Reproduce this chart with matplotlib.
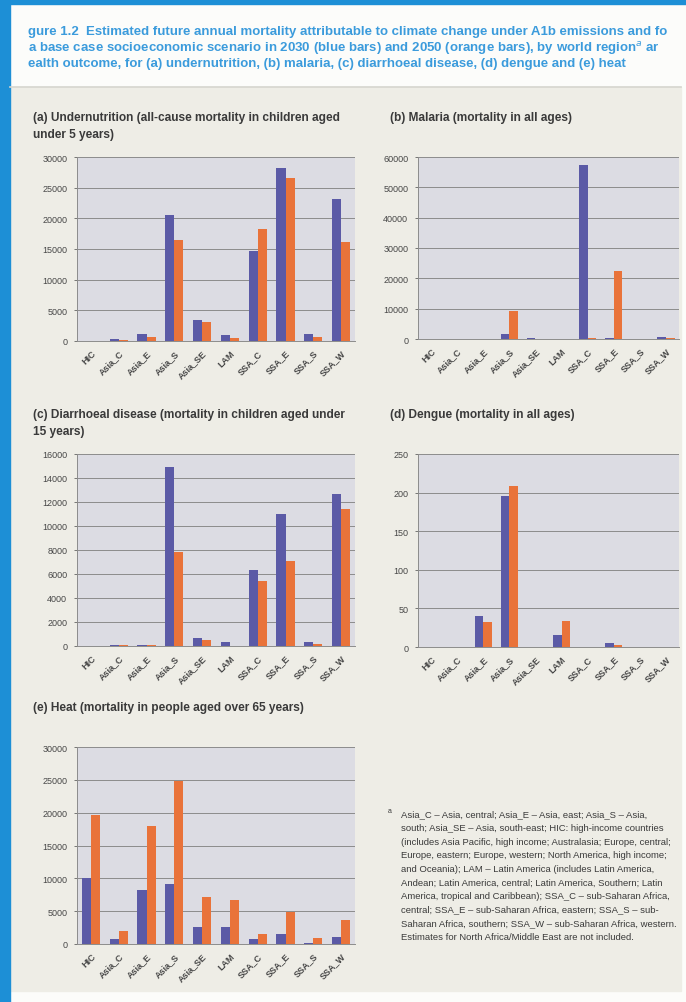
import numpy as np
import matplotlib
matplotlib.use("Agg")
import matplotlib.pyplot as plt
from matplotlib.patches import Rectangle

plt.rcParams["font.family"] = ["Liberation Sans", "DejaVu Sans"]

# data
regions = ["HIC", "Asia_C", "Asia_E", "Asia_S", "Asia_SE", "LAM", "SSA_C", "SSA_E", "SSA_S", "SSA_W"]

undernut_2030 = [0, 400, 1100, 20600, 3500, 1000, 14600, 28200, 1100, 23100]
undernut_2050 = [0, 200, 700, 16500, 3100, 550, 18200, 26500, 700, 16200]

malaria_2030 = [0, 0, 0, 1500, 200, 100, 57400, 300, 0, 800]
malaria_2050 = [0, 0, 0, 9300, 100, 100, 300, 22300, 0, 200]

diarr_2030 = [0, 100, 100, 14900, 650, 300, 6300, 11000, 300, 12700]
diarr_2050 = [0, 50, 50, 7800, 500, 0, 5450, 7050, 200, 11400]

dengue_2030 = [0, 0, 40, 196, 0, 16, 0, 5, 0, 0]
dengue_2050 = [0, 0, 32, 209, 0, 34, 0, 3, 0, 0]

heat_2030 = [10100, 770, 8200, 9200, 2550, 2550, 770, 1500, 100, 1100]
heat_2050 = [19600, 2000, 17900, 24800, 7100, 6700, 1500, 4850, 900, 3650]

# the scan is cropped at both sides, so the title lines show only these parts
title_lines = [
    "gure 1.2  Estimated future annual mortality attributable to climate change under A1b emissions and fo",
    "a base case socioeconomic scenario in 2030 (blue bars) and 2050 (orange bars), by world region$^{a}$ ar",
    "ealth outcome, for (a) undernutrition, (b) malaria, (c) diarrhoeal disease, (d) dengue and (e) heat",
]

footnote_lines = [
    "Asia_C \u2013 Asia, central; Asia_E \u2013 Asia, east; Asia_S \u2013 Asia,",
    "south; Asia_SE \u2013 Asia, south-east; HIC: high-income countries",
    "(includes Asia Pacific, high income; Australasia; Europe, central;",
    "Europe, eastern; Europe, western; North America, high income;",
    "and Oceania); LAM \u2013 Latin America (includes Latin America,",
    "Andean; Latin America, central; Latin America, Southern; Latin",
    "America, tropical and Caribbean); SSA_C \u2013 sub-Saharan Africa,",
    "central; SSA_E \u2013 sub-Saharan Africa, eastern; SSA_S \u2013 sub-",
    "Saharan Africa, southern; SSA_W \u2013 sub-Saharan Africa, western.",
    "Estimates for North Africa/Middle East are not included.",
]

W, H = 686, 1003
frame_blue = "#1d8fd6"
title_blue = "#3b9bdc"
cream = "#eeede6"
plot_bg = "#dcdce3"
bar_blue = "#5b5aa6"
bar_orange = "#e9733a"
text_col = "#3a3a3a"

fig = plt.figure(figsize=(W / 100, H / 100), dpi=100, facecolor="#fcfcfa")


def rect(x0, y0, x1, y1):
    return [x0 / W, 1 - y1 / H, (x1 - x0) / W, (y1 - y0) / H]


# background: page, blue frame, cream panel
bg = fig.add_axes([0, 0, 1, 1])
bg.set_xlim(0, W)
bg.set_ylim(H, 0)
bg.axis("off")
bg.add_patch(Rectangle((10, 88), 671, 904, color=cream, zorder=0))
bg.add_patch(Rectangle((0, 0), 10, H, color=frame_blue, zorder=1))
bg.add_patch(Rectangle((0, 0), W, 5, color=frame_blue, zorder=1))
bg.plot([10, 681], [88, 88], color="#d6d6cf", lw=1.2)

# title
for ys, line in zip([32, 48, 64], title_lines):
    bg.text(28, ys, line, color=title_blue, fontsize=9.5, fontweight="bold",
            va="center", ha="left")

# footnote
bg.text(388, 812, "a", color=text_col, fontsize=5, va="center")
for i, line in enumerate(footnote_lines):
    bg.text(401, 815 + i * 13.6, line, color=text_col, fontsize=6.8, va="center")


def bar_panel(box, v30, v50, ymax, step, title):
    ax = fig.add_axes(rect(*box))
    x = np.arange(len(regions))
    w = 0.33
    ax.set_facecolor(plot_bg)
    ax.bar(x - w / 2, v30, w, color=bar_blue, zorder=3)
    ax.bar(x + w / 2, v50, w, color=bar_orange, zorder=3)
    ax.set_xlim(-0.5, len(regions) - 0.5)
    ax.set_ylim(0, ymax)
    ax.set_yticks(np.arange(0, ymax + 1, step))
    ax.yaxis.grid(True, color="#8c8c8c", lw=0.7, zorder=1)
    ax.set_xticks(x)
    ax.set_xticklabels(regions, rotation=45, ha="right", rotation_mode="anchor",
                       fontsize=6.5, fontweight="bold", color="#474747")
    ax.tick_params(axis="y", labelsize=6.5, colors="#474747", length=2, width=0.5, pad=5)
    ax.tick_params(axis="x", length=0, pad=5)
    for s in ["top", "right"]:
        ax.spines[s].set_visible(False)
    for s in ["left", "bottom"]:
        ax.spines[s].set_color("#8c8c8c")
        ax.spines[s].set_linewidth(0.7)
    tx = box[0] - 44 if box[0] < 200 else box[0] - 28
    bg.text(tx, box[1] - 46, title, fontsize=8.6, fontweight="bold",
            color=text_col, va="top", linespacing=1.5)
    return ax


bar_panel((77, 158, 355, 342), undernut_2030, undernut_2050, 30000, 5000,
          "(a) Undernutrition (all-cause mortality in children aged\nunder 5 years)")
bar_panel((418, 158, 679, 340), malaria_2030, malaria_2050, 60000, 10000,
          "(b) Malaria (mortality in all ages)")
bar_panel((77, 455, 355, 647), diarr_2030, diarr_2050, 16000, 2000,
          "(c) Diarrhoeal disease (mortality in children aged under\n15 years)")
bar_panel((418, 455, 679, 648), dengue_2030, dengue_2050, 250, 50,
          "(d) Dengue (mortality in all ages)")
bar_panel((77, 748, 355, 945), heat_2030, heat_2050, 30000, 5000,
          "(e) Heat (mortality in people aged over 65 years)")

fig.savefig("out.png", dpi=100, facecolor=fig.get_facecolor())
